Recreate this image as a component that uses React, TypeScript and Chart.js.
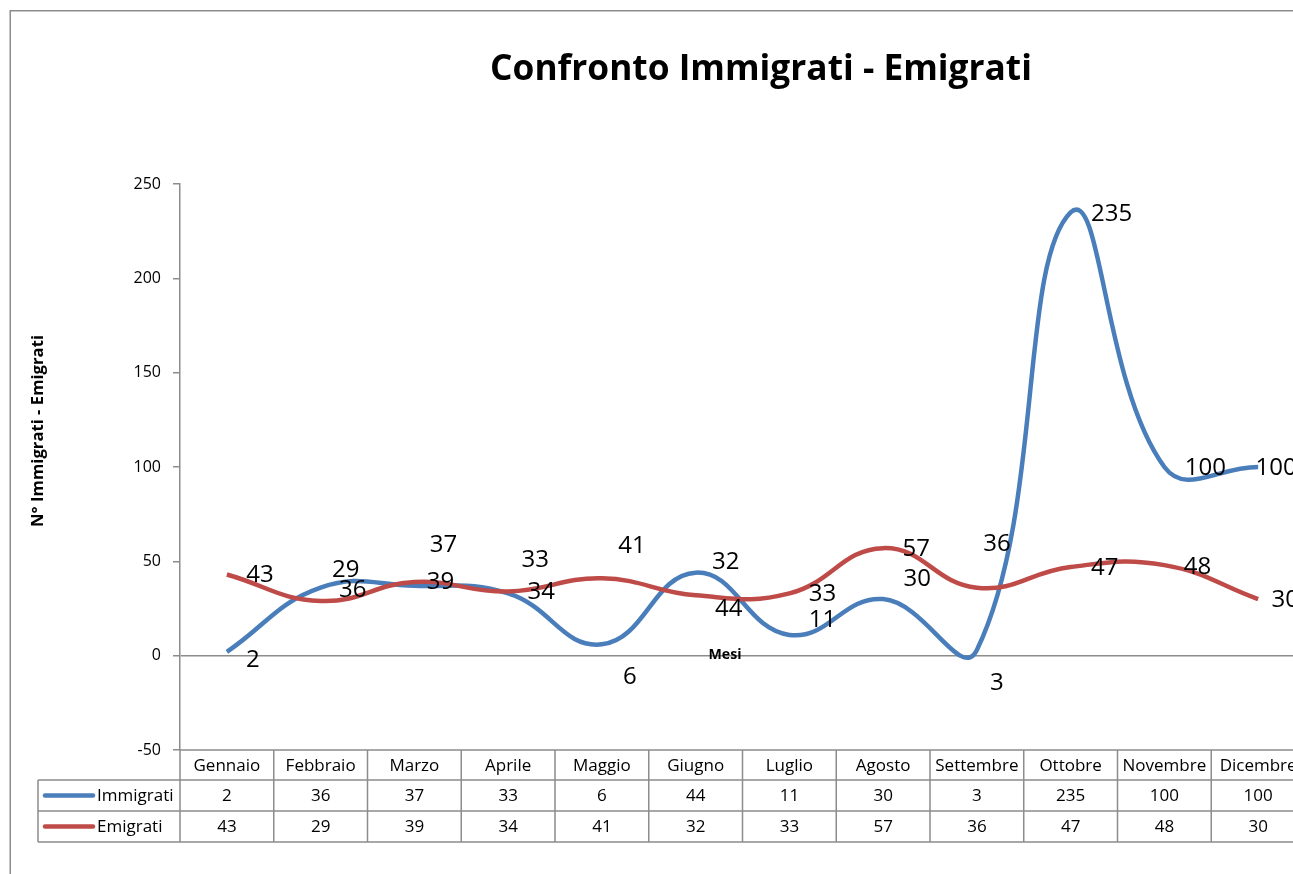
import React, { useEffect, useRef } from 'react';
import { Chart, registerables } from 'chart.js';

Chart.register(...registerables);

const months = ['Gennaio', 'Febbraio', 'Marzo', 'Aprile', 'Maggio', 'Giugno', 'Luglio', 'Agosto', 'Settembre', 'Ottobre', 'Novembre', 'Dicembre'];
const immigrati = [2, 36, 37, 33, 6, 44, 11, 30, 3, 235, 100, 100];
const emigrati = [43, 29, 39, 34, 41, 32, 33, 57, 36, 47, 48, 30];
const yMin = -50;
const yMax = 250;
const yStep = 50;

const titleText = 'Confronto Immigrati - Emigrati';
const yTitleText = 'N° Immigrati - Emigrati';
const xTitleText = 'Mesi';

// label offsets in pixels (style only)
const immigratiLabelOffsets = [[26, 8], [32, 2], [29, -41], [27, -33], [28, 33], [33, 37], [33, -15], [34, -20], [20, 33], [41, 2], [41, 1], [18, 1]];
const emigratiLabelOffsets = [[33, 1], [25, -31], [26, 0], [33, 1], [30, -32], [30, -33], [33, 1], [33, 1], [20, -44], [34, 1], [33, 2], [27, 1]];

const BLUE = '#4A7EBB';
const RED = '#BE4B48';
const GRAY = '#8c8c8c';
const FONT = "'Open Sans', 'DejaVu Sans', sans-serif";
const W = 1330;
const H = 874;

function fitFont(ctx: CanvasRenderingContext2D, text: string, weight: string, targetW: number) {
  ctx.font = `${weight} 40px ${FONT}`;
  const w = ctx.measureText(text).width;
  const size = (40 * targetW) / w;
  return `${weight} ${size.toFixed(2)}px ${FONT}`;
}

const decorPlugin = {
  id: 'decor',
  beforeDraw(chart: any) {
    const ctx = chart.ctx;
    ctx.save();
    ctx.fillStyle = '#ffffff';
    ctx.fillRect(0, 0, chart.width, chart.height);
    ctx.strokeStyle = GRAY;
    ctx.lineWidth = 1.5;
    ctx.strokeRect(10.25, 10.75, 3000, 3000);
    ctx.restore();
  },
  afterDatasetsDraw(chart: any) {
    const ctx = chart.ctx;
    ctx.save();
    ctx.fillStyle = '#000';
    ctx.font = `24px ${FONT}`;
    ctx.textAlign = 'center';
    ctx.textBaseline = 'middle';
    const sets = [
      { idx: 0, data: immigrati, off: immigratiLabelOffsets },
      { idx: 1, data: emigrati, off: emigratiLabelOffsets },
    ];
    sets.forEach((s) => {
      const meta = chart.getDatasetMeta(s.idx);
      meta.data.forEach((pt: any, i: number) => {
        ctx.fillText(String(s.data[i]), pt.x + s.off[i][0], pt.y + s.off[i][1]);
      });
    });
    ctx.restore();
  },
  afterDraw(chart: any) {
    const ctx = chart.ctx;
    const area = chart.chartArea;
    const xs = chart.scales.x;
    ctx.save();
    // title
    ctx.fillStyle = '#000';
    ctx.textAlign = 'center';
    ctx.textBaseline = 'middle';
    ctx.font = fitFont(ctx, titleText, 'bold', 542);
    ctx.fillText(titleText, 761, 70);
    // x title
    ctx.font = fitFont(ctx, xTitleText, 'bold', 33);
    ctx.fillText(xTitleText, 725, 655);
    // y title
    ctx.save();
    ctx.translate(38, 431);
    ctx.rotate(-Math.PI / 2);
    ctx.font = fitFont(ctx, yTitleText, 'bold', 192);
    ctx.fillText(yTitleText, 0, 0);
    ctx.restore();

    // table
    const n = months.length;
    const left = area.left;
    const colW = (xs.right - xs.left) / n;
    const top = area.bottom;
    const r1 = top + 30;
    const r2 = r1 + 31;
    const r3 = r2 + 31;
    const legL = 38;
    const right = xs.right;
    ctx.strokeStyle = GRAY;
    ctx.lineWidth = 1.5;
    ctx.beginPath();
    ctx.moveTo(left, top); ctx.lineTo(right, top);
    ctx.moveTo(legL, r1); ctx.lineTo(right, r1);
    ctx.moveTo(legL, r2); ctx.lineTo(right, r2);
    ctx.moveTo(legL, r3); ctx.lineTo(right, r3);
    ctx.moveTo(legL, r1); ctx.lineTo(legL, r3);
    for (let i = 0; i <= n; i++) {
      const x = left + i * colW;
      ctx.moveTo(x, top); ctx.lineTo(x, r3);
    }
    ctx.stroke();

    ctx.fillStyle = '#000';
    ctx.font = `17px ${FONT}`;
    ctx.textAlign = 'center';
    ctx.textBaseline = 'middle';
    for (let i = 0; i < n; i++) {
      const cx = xs.getPixelForValue(i);
      ctx.fillText(months[i], cx, (top + r1) / 2 + 1);
      ctx.fillText(String(immigrati[i]), cx, (r1 + r2) / 2 + 1);
      ctx.fillText(String(emigrati[i]), cx, (r2 + r3) / 2 + 1);
    }
    // legend keys
    const keys = [
      { label: chart.data.datasets[0].label, color: BLUE, y: (r1 + r2) / 2 },
      { label: chart.data.datasets[1].label, color: RED, y: (r2 + r3) / 2 },
    ];
    keys.forEach((k) => {
      ctx.strokeStyle = k.color;
      ctx.lineWidth = 4.5;
      ctx.lineCap = 'round';
      ctx.beginPath();
      ctx.moveTo(45, k.y);
      ctx.lineTo(93, k.y);
      ctx.stroke();
      ctx.textAlign = 'left';
      ctx.fillText(k.label, 97, k.y + 1);
    });
    ctx.restore();
  },
};

export default function App() {
  const ref = useRef<HTMLCanvasElement | null>(null);
  useEffect(() => {
    if (!ref.current) return;
    const chart = new Chart(ref.current, {
      type: 'line',
      data: {
        labels: months,
        datasets: [
          {
            label: 'Immigrati',
            data: immigrati,
            borderColor: BLUE,
            backgroundColor: BLUE,
            borderWidth: 4.5,
            pointRadius: 0,
            tension: 0.44,
            order: 1,
          },
          {
            label: 'Emigrati',
            data: emigrati,
            borderColor: RED,
            backgroundColor: RED,
            borderWidth: 4.5,
            pointRadius: 0,
            tension: 0.44,
            order: 0,
          },
        ],
      },
      options: {
        responsive: false,
        animation: false,
        devicePixelRatio: 1,
        layout: { padding: { left: 120, right: 25, top: 184, bottom: 124 } },
        plugins: {
          legend: { display: false },
          title: { display: false },
          tooltip: { enabled: false },
        },
        scales: {
          x: {
            type: 'category',
            offset: true,
            grid: { display: false },
            border: { display: false },
            ticks: { display: false },
            afterFit: (s: any) => { s.height = 0; },
          },
          y: {
            min: yMin,
            max: yMax,
            ticks: {
              stepSize: yStep,
              color: '#000',
              padding: 12,
              font: { family: FONT, size: 16 },
            },
            grid: {
              drawOnChartArea: true,
              drawTicks: true,
              tickLength: 7,
              tickColor: GRAY,
              lineWidth: 1.5,
              color: (c: any) => (c.tick && c.tick.value === 0 ? GRAY : 'rgba(0,0,0,0)'),
            },
            border: { display: true, color: GRAY, width: 1.5 },
            afterFit: (s: any) => { s.width = 60; },
          },
        },
      },
      plugins: [decorPlugin],
    });
    return () => chart.destroy();
  }, []);
  return (
    <div style={{ position: 'fixed', left: 0, top: 0, width: 1293, height: 874, overflow: 'hidden', background: '#fff' }}>
      <canvas ref={ref} width={W} height={H} style={{ display: 'block', width: W, height: H }} />
    </div>
  );
}
